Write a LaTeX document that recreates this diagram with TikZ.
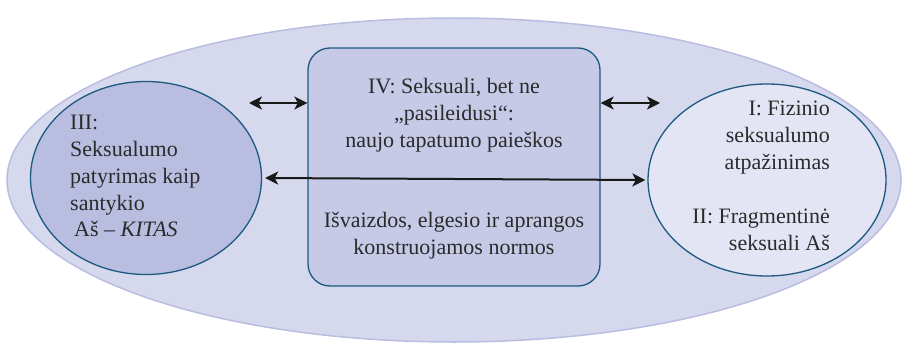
\documentclass[tikz,border=0pt]{standalone}
\usepackage{fontspec}
\setmainfont{Liberation Serif}
\usetikzlibrary{shapes.geometric,arrows.meta}
\definecolor{outerfill}{HTML}{D6D8EE}
\definecolor{outerline}{HTML}{B9BDE0}
\definecolor{leftfill}{HTML}{B9BDE0}
\definecolor{boxfill}{HTML}{C6CAE7}
\definecolor{rightfill}{HTML}{E3E5F4}
\definecolor{edgeblue}{HTML}{1D5A80}
\definecolor{txt}{HTML}{2B2B2B}
\tikzset{
  blob/.style={ellipse, draw=edgeblue, line width=1.3pt, inner sep=0pt},
  label/.style={inner sep=0pt, text=txt, font=\fontsize{22}{26.8}\selectfont},
  dbl/.style={{Stealth[length=13pt,width=13pt,inset=3.5pt]}-{Stealth[length=13pt,width=13pt,inset=3.5pt]}, line width=2pt, draw=black!90}
}
\begin{document}
\begin{tikzpicture}[x=1pt,y=-1pt]
\useasboundingbox (0,0) rectangle (904,345);
\node[ellipse, fill=outerfill, draw=outerline, line width=1.5pt, minimum width=894pt, minimum height=324pt, inner sep=0pt] (outer) at (454,180) {};
\node[blob, fill=leftfill, minimum width=231pt, minimum height=193pt] (L) at (146,178) {};
\node[blob, fill=rightfill, minimum width=238pt, minimum height=192pt] (R) at (767,180) {};
\node[draw=edgeblue, line width=1.3pt, fill=boxfill, rounded corners=22pt, minimum width=292pt, minimum height=238pt, inner sep=0pt] (C) at (454,167) {};
\coordinate (a1) at (249,103);
\coordinate (a2) at (660,103);
\draw[dbl] (a1) -- (C.west |- a1);
\draw[dbl] (C.east |- a2) -- (a2);
\draw[dbl] ([xshift=3pt]L.east) -- ([xshift=-2pt]R.west);
\node[label, align=left, anchor=north west] (tL) at (70,115) {III:\\Seksualumo\\patyrimas kaip\\santykio\\\hspace{4pt}Aš – \textit{KITAS}};
\node[label, align=center, anchor=north] (tC1) at (454,78) {IV: Seksuali, bet ne\\„pasileidusi“:\\naujo tapatumo paieškos};
\node[label, align=center, anchor=north] (tC2) at (454,212) {Išvaizdos, elgesio ir aprangos\\konstruojamos normos};
\node[label, align=right, anchor=north east] (tR1) at (830,101) {I: Fizinio\\seksualumo\\atpažinimas};
\node[label, align=right, anchor=north east] (tR2) at (830,209) {II: Fragmentinė\\seksuali Aš};
\end{tikzpicture}
\end{document}
